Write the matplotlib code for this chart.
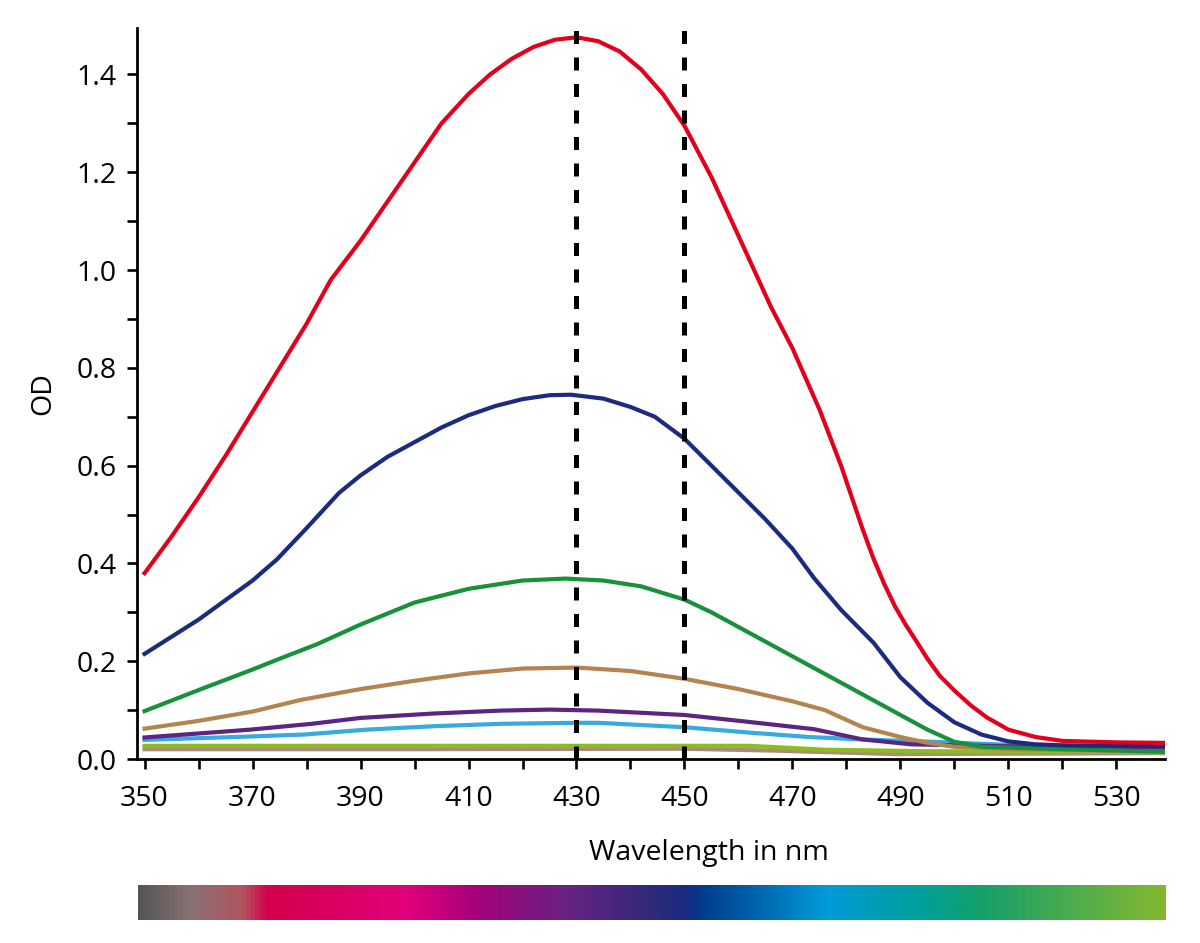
import numpy as np
import matplotlib
matplotlib.use("Agg")
import matplotlib.pyplot as plt
from matplotlib.colors import LinearSegmentedColormap
from matplotlib.ticker import MultipleLocator, FixedLocator

plt.rcParams['font.family'] = ['Open Sans', 'DejaVu Sans']

# absorbance spectra (wavelength in nm, OD)
wl_red = [350, 355, 360, 365, 370, 375, 380, 384.5, 390, 395, 400, 405, 410, 414, 418, 422, 426,
          430, 434, 438, 442, 446, 450, 455, 460, 466, 470, 475, 479, 483, 485, 487, 489, 491,
          493, 495, 497.3, 500, 503, 506, 510, 515, 520, 530, 539]
od_red = [0.38, 0.455, 0.535, 0.62, 0.71, 0.80, 0.89, 0.98, 1.06, 1.14, 1.22, 1.30, 1.36, 1.40,
          1.432, 1.456, 1.471, 1.476, 1.468, 1.447, 1.41, 1.36, 1.295, 1.19, 1.07, 0.925, 0.84,
          0.715, 0.60, 0.47, 0.41, 0.358, 0.312, 0.274, 0.24, 0.205, 0.17, 0.14, 0.11, 0.085,
          0.06, 0.045, 0.037, 0.034, 0.033]

wl_blue = [350, 355, 360, 365, 370, 374.5, 380, 386, 390, 395, 400, 405, 410, 415, 420, 425, 429,
           435, 440, 444.5, 450, 455, 460, 465, 470, 474, 479, 485, 490, 495, 500, 505, 510, 515,
           520, 530, 539]
od_blue = [0.215, 0.25, 0.285, 0.325, 0.365, 0.408, 0.472, 0.544, 0.58, 0.618, 0.648, 0.678,
           0.703, 0.722, 0.736, 0.744, 0.745, 0.737, 0.72, 0.70, 0.655, 0.60, 0.545, 0.49, 0.43,
           0.37, 0.305, 0.238, 0.167, 0.115, 0.075, 0.05, 0.036, 0.03, 0.028, 0.027, 0.026]

wl_green = [350, 360, 370, 375, 382, 390, 400, 410, 420, 428, 435, 442, 450, 455, 460, 470, 480,
            490, 495, 500, 505, 520, 539]
od_green = [0.098, 0.141, 0.183, 0.205, 0.235, 0.275, 0.32, 0.348, 0.365, 0.369, 0.365, 0.353,
            0.326, 0.30, 0.27, 0.21, 0.15, 0.09, 0.06, 0.035, 0.025, 0.02, 0.015]

wl_tan = [350, 360, 370, 379, 390, 400, 410, 420, 430, 440, 450, 460, 470, 476, 483, 490, 495,
          500, 510, 539]
od_tan = [0.062, 0.078, 0.097, 0.121, 0.143, 0.16, 0.175, 0.185, 0.187, 0.18, 0.164, 0.143, 0.118,
          0.10, 0.065, 0.045, 0.033, 0.025, 0.02, 0.015]

wl_purple = [350, 369.5, 381, 390, 403.5, 416, 425, 434, 450, 461, 474, 483, 492, 510, 539]
od_purple = [0.044, 0.06, 0.072, 0.084, 0.093, 0.099, 0.101, 0.099, 0.09, 0.077, 0.061, 0.04,
             0.03, 0.026, 0.023]

wl_lblue = [350, 369.5, 379.5, 391, 403.5, 416, 430, 434, 450, 462, 473, 483, 494, 510, 539]
od_lblue = [0.039, 0.046, 0.05, 0.06, 0.067, 0.072, 0.074, 0.074, 0.065, 0.054, 0.045, 0.04,
            0.036, 0.029, 0.021]

wl_lgreen = [350, 400, 450, 462, 476, 494, 539]
od_lgreen = [0.027, 0.027, 0.027, 0.027, 0.019, 0.016, 0.014]

wl_grey = [350, 400, 450, 467, 489, 539]
od_grey = [0.02, 0.02, 0.021, 0.017, 0.01, 0.012]

peak_lines = [430, 450]

bar_stops = [0.0, 0.05, 0.10, 0.125, 0.26, 0.325, 0.415, 0.50, 0.53, 0.55, 0.67, 0.76, 0.82, 1.0]
bar_colors = ['#555555', '#8a7272', '#b2545e', '#d2004a', '#e2007a', '#a8007a', '#6a2282',
              '#302a7a', '#1c2a80', '#003c8c', '#009ad9', '#00a09c', '#14a06c', '#84b830']

series = [
    (wl_grey, od_grey, '#a88c79'),
    (wl_lgreen, od_lgreen, '#8dbd1c'),
    (wl_lblue, od_lblue, '#35abdf'),
    (wl_purple, od_purple, '#5c2582'),
    (wl_tan, od_tan, '#b5834f'),
    (wl_green, od_green, '#17913a'),
    (wl_blue, od_blue, '#1c2a80'),
    (wl_red, od_red, '#e3001b'),
]

fig = plt.figure(figsize=(12, 9.43), dpi=100)
ax = fig.add_axes([137/1200, 1 - 759/943, 1028/1200, 731/943])

for wl, od, col in series:
    ax.plot(wl, od, color=col, lw=3.0, solid_joinstyle='round', zorder=2)

for x in peak_lines:
    ax.axvline(x, color='black', lw=3.6, linestyle=(0, (2.6, 2.7)), zorder=3)

ax.set_xlim(348.6, 539)
ax.set_ylim(0, 1.495)
ax.xaxis.set_major_locator(FixedLocator(np.arange(350, 531, 20)))
ax.xaxis.set_minor_locator(FixedLocator(np.arange(360, 531, 20)))
ax.yaxis.set_major_locator(MultipleLocator(0.2))
ax.yaxis.set_minor_locator(MultipleLocator(0.1))
ax.yaxis.set_major_formatter(plt.FormatStrFormatter('%.1f'))

for s in ['top', 'right']:
    ax.spines[s].set_visible(False)
for s in ['left', 'bottom']:
    ax.spines[s].set_linewidth(2.0)

ax.tick_params(which='both', direction='out', length=7.5, width=1.9, labelsize=20.5)
ax.tick_params(axis='x', which='both', pad=11.5)
ax.tick_params(axis='y', which='both', pad=7)

ax.set_xlabel('Wavelength in nm', fontsize=20.5)
ax.xaxis.set_label_coords(0.556, -0.109)
ax.set_ylabel('OD', fontsize=20.5)
ax.yaxis.set_label_coords(-0.078, 0.5)

# spectrum bar under the plot
cmap = LinearSegmentedColormap.from_list('spec', list(zip(bar_stops, bar_colors)))
bax = fig.add_axes([138/1200, 1 - 920/943, 1028/1200, 35/943])
bax.imshow(np.linspace(0, 1, 512)[None, :], aspect='auto', cmap=cmap)
bax.axis('off')

fig.savefig('out.png', dpi=100)
